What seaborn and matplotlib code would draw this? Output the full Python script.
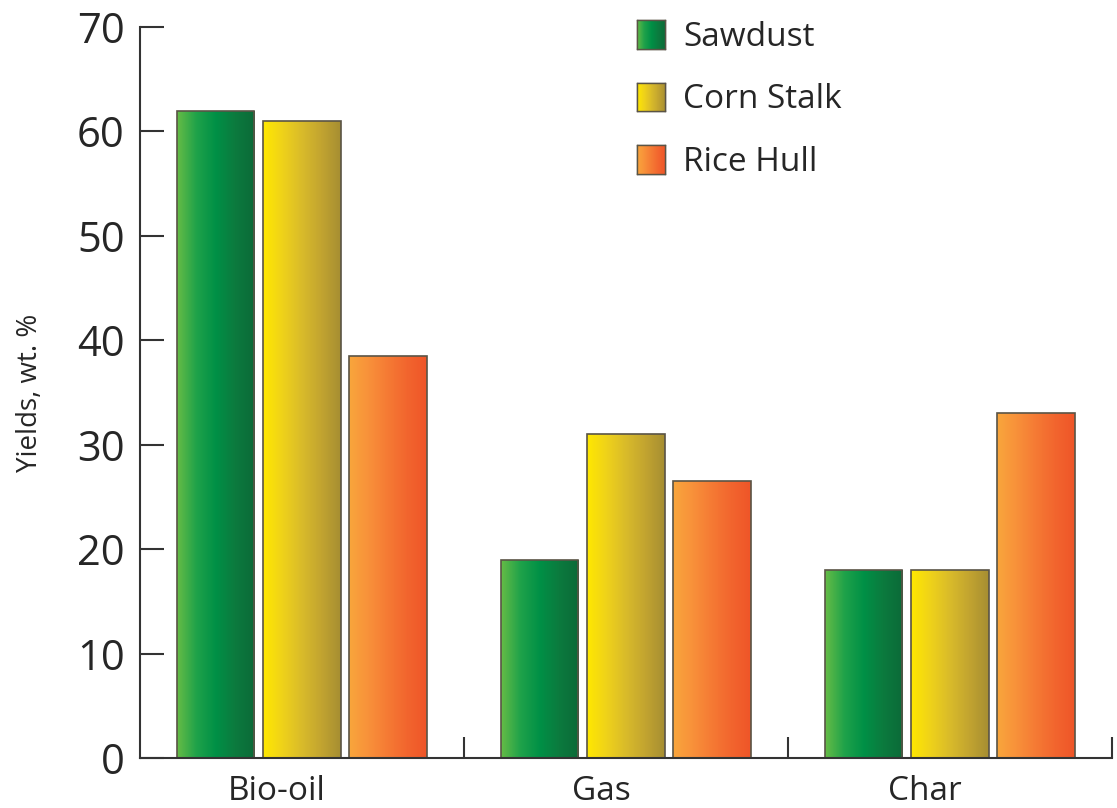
import numpy as np
import pandas as pd
import seaborn as sns
import matplotlib.pyplot as plt
from matplotlib.colors import LinearSegmentedColormap
from matplotlib.patches import Patch
from matplotlib.ticker import FixedLocator
import matplotlib.transforms as mtransforms

# data
products = ["Bio-oil", "Gas", "Char"]
feedstocks = ["Sawdust", "Corn Stalk", "Rice Hull"]
sawdust = [62, 19, 18]
corn_stalk = [61, 31, 18]
rice_hull = [38.5, 26.5, 33]

df = pd.DataFrame({
    "product": products * 3,
    "feedstock": [f for f in feedstocks for _ in products],
    "yield": sawdust + corn_stalk + rice_hull,
})

# left-to-right gradients for each feedstock
gradients = {
    "Sawdust": ["#66bc46", "#1fa24a", "#009046", "#0c7a3e", "#0b6a38"],
    "Corn Stalk": ["#ffe800", "#efd21a", "#d9bb2a", "#c2a430", "#a68e32"],
    "Rice Hull": ["#f9a63c", "#f8913a", "#f57a34", "#f2652e", "#ef5528"],
}
mid_colors = {"Sawdust": "#009046", "Corn Stalk": "#d9bb2a", "Rice Hull": "#f57a34"}
cmaps = {k: LinearSegmentedColormap.from_list(k, v) for k, v in gradients.items()}
grad = np.linspace(0, 1, 256).reshape(1, -1)

sns.set_style("ticks")
plt.rcParams["font.family"] = ["Open Sans", "DejaVu Sans"]
plt.rcParams["axes.edgecolor"] = "#333333"

fig = plt.figure(figsize=(11.17, 8.08), dpi=100)
ax = fig.add_axes([0.1253, 0.0619, 0.8702, 0.9047])

sns.barplot(data=df, x="product", y="yield", hue="feedstock", order=products,
            hue_order=feedstocks, palette=mid_colors, width=0.8, gap=0.1,
            edgecolor="#5a5446", linewidth=1.2, legend=False, ax=ax)

# paint gradients into the bars, clipped to each bar
for container, name in zip(ax.containers, feedstocks):
    for bar in container:
        x0, y0 = bar.get_x(), bar.get_y()
        w, h = bar.get_width(), bar.get_height()
        im = ax.imshow(grad, cmap=cmaps[name], aspect="auto", interpolation="bicubic",
                       extent=[x0, x0 + w, y0, y0 + h], zorder=1.5)
        im.set_clip_path(bar)
        bar.set_facecolor("none")
        bar.set_zorder(2)

ax.set_xlim(-0.5, 2.5)
ax.set_ylim(0, 70)
ax.set_yticks(range(0, 71, 10))
ax.tick_params(axis="y", direction="in", length=17, width=1.5, pad=11,
               labelsize=30, color="#333333")
ax.tick_params(axis="x", which="major", length=0, pad=12, labelsize=24)
ax.xaxis.set_minor_locator(FixedLocator([0.5, 1.5, 2.5]))
ax.tick_params(axis="x", which="minor", direction="in", length=15, width=1.5,
               color="#333333")
offset = mtransforms.ScaledTranslation(-25 / 100, 0, fig.dpi_scale_trans)
for lbl in ax.get_xticklabels():
    lbl.set_transform(lbl.get_transform() + offset)

for side in ["top", "right"]:
    ax.spines[side].set_visible(False)
for side in ["left", "bottom"]:
    ax.spines[side].set_linewidth(1.5)

ax.set_xlabel("")
ax.set_ylabel("Yields, wt. %", fontsize=20, labelpad=24)

handles = [Patch(facecolor=mid_colors[n], edgecolor="#5a5446", linewidth=1.0) for n in feedstocks]
leg = ax.legend(handles, feedstocks, loc="upper left", bbox_to_anchor=(0.48, 1.05),
                frameon=False, fontsize=24, handlelength=0.85, handleheight=0.95,
                handletextpad=0.55, labelspacing=0.85)

# overlay gradients on the legend squares
fig.canvas.draw()
inv = fig.transFigure.inverted()
for patch, name in zip(leg.get_patches(), feedstocks):
    bb = patch.get_window_extent().transformed(inv)
    iax = fig.add_axes([bb.x0, bb.y0, bb.width, bb.height])
    iax.imshow(grad, cmap=cmaps[name], aspect="auto", interpolation="bicubic")
    iax.set_xticks([])
    iax.set_yticks([])
    for s in iax.spines.values():
        s.set_edgecolor("#5a5446")
        s.set_linewidth(1.0)

fig.savefig("out.png", dpi=100)
